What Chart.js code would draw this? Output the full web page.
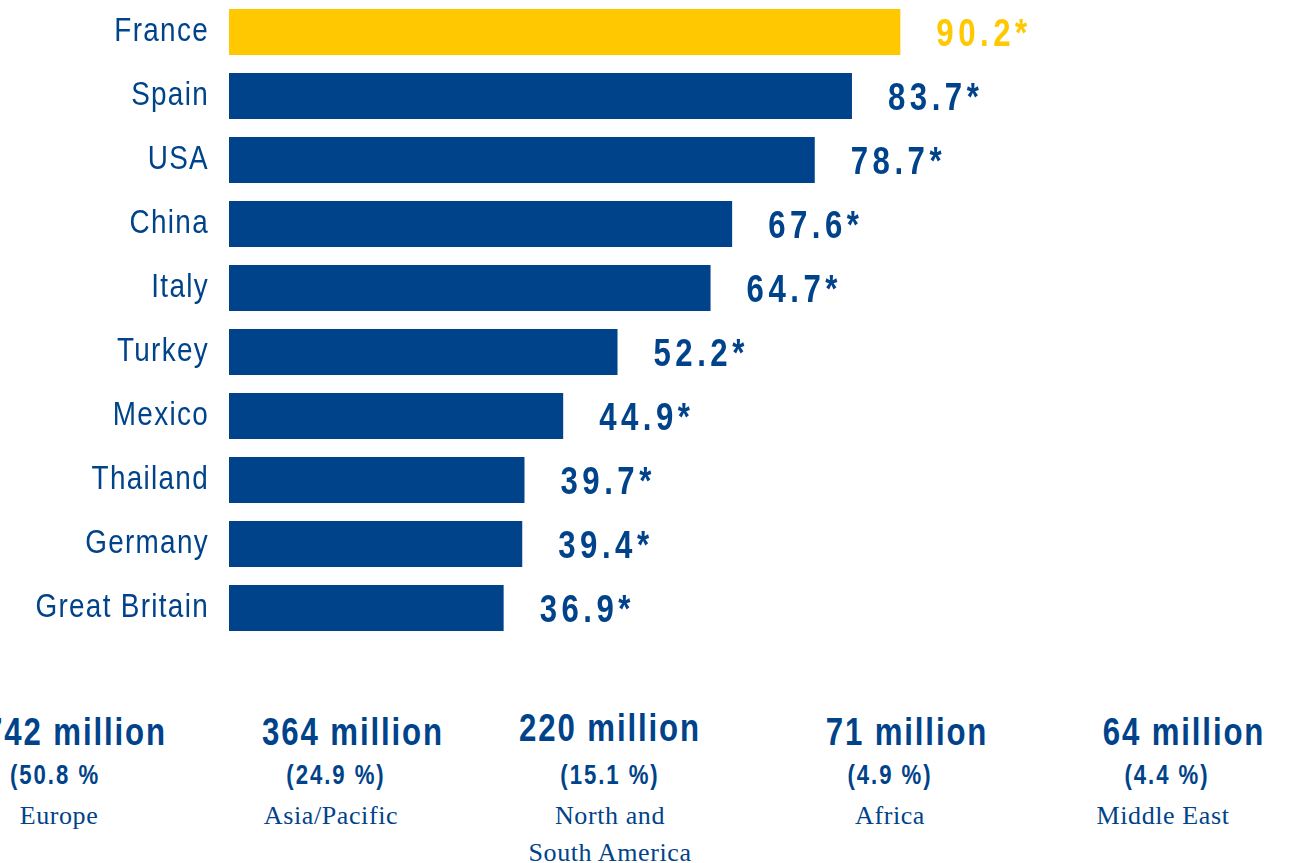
<!DOCTYPE html>
<html>
<head>
<meta charset="utf-8">
<script src="https://cdn.jsdelivr.net/npm/chart.js@4.4.0/dist/chart.umd.min.js"></script>
<style>
  html, body { margin: 0; padding: 0; background: #fff; overflow: hidden; }
  #wrap { position: relative; width: 1302px; height: 863px; }
  #chartBox { position: absolute; left: 0; top: 0; width: 1302px; height: 640px; }
  .region { position: absolute; color: #00438a; text-align: center; white-space: nowrap; transform-origin: center; }
  .big, .pct { font-family: "Liberation Sans", Arial, sans-serif; font-weight: bold; transform: translateX(-50%) scaleX(0.82); }
  .big { font-size: 38px; letter-spacing: 2.3px; line-height: 40px; }
  .pct { font-size: 27px; letter-spacing: 2.4px; line-height: 30px; }
  .name { font-family: "Liberation Serif", "DejaVu Serif", serif; font-size: 26px; letter-spacing: 0.6px; line-height: 37px; transform: translateX(-50%); }
</style>
</head>
<body>
<div id="wrap">
  <div id="chartBox"><canvas id="tourism"></canvas></div>
  <div id="regions"></div>
</div>
<script>
// arrivals per country (millions)
const countries = ["France", "Spain", "USA", "China", "Italy", "Turkey", "Mexico", "Thailand", "Germany", "Great Britain"];
const arrivals = [90.2, 83.7, 78.7, 67.6, 64.7, 52.2, 44.9, 39.7, 39.4, 36.9];

// arrivals per world region
const regionNames = ["Europe", "Asia/Pacific", "North and\nSouth America", "Africa", "Middle East"];
const regionTotals = ["742 million", "364 million", "220 million", "71 million", "64 million"];
const regionShares = ["(50.8 %", "(24.9 %)", "(15.1 %)", "(4.9 %)", "(4.4 %)"];

const BLUE = "#00438a";
const YELLOW = "#ffc800";
const NARROW = 0.82; // horizontal squeeze for the condensed look

// ---------- region blocks under the chart ----------
const regionCenters = [
  { total: 76, share: 55, name: 59 },
  { total: 353, share: 336, name: 331 },
  { total: 610, share: 610, name: 610 },
  { total: 907, share: 890, name: 890 },
  { total: 1184, share: 1167, name: 1163 }
];
const regionBox = document.getElementById("regions");
regionNames.forEach((name, i) => {
  const c = regionCenters[i];
  const top = i === 2 ? 708 : 712;
  regionBox.innerHTML += `
    <div class="region big" style="left:${c.total}px; top:${top}px">${regionTotals[i]}</div>
    <div class="region pct" style="left:${c.share}px; top:760px">${regionShares[i]}</div>
    <div class="region name" style="left:${c.name}px; top:797px">${name.replace("\n", "<br>")}</div>`;
});

function squeezedText(ctx, text, x, y) {
  ctx.save();
  ctx.translate(x, y);
  ctx.scale(NARROW, 1);
  ctx.fillText(text, 0, 0);
  ctx.restore();
}

// country names left of the bars and values right of them
const barLabels = {
  id: "barLabels",
  afterDatasetsDraw(chart) {
    const ctx = chart.ctx;
    const meta = chart.getDatasetMeta(0);
    const yScale = chart.scales.y;
    ctx.save();
    ctx.textBaseline = "alphabetic";

    ctx.font = '34px "Liberation Sans", Arial, sans-serif';
    ctx.letterSpacing = "1.6px";
    ctx.textAlign = "right";
    ctx.fillStyle = BLUE;
    countries.forEach((name, i) => {
      squeezedText(ctx, name, chart.chartArea.left - 20, yScale.getPixelForTick(i) + 9);
    });

    ctx.font = 'bold 38px "Liberation Sans", Arial, sans-serif';
    ctx.letterSpacing = "5.5px";
    ctx.textAlign = "left";
    meta.data.forEach((bar, i) => {
      ctx.fillStyle = i === 0 ? YELLOW : BLUE;
      squeezedText(ctx, arrivals[i].toFixed(1) + "*", bar.x + 36, bar.y + 14);
    });
    ctx.restore();
  }
};

new Chart(document.getElementById("tourism"), {
  type: "bar",
  data: {
    labels: countries,
    datasets: [{
      data: arrivals,
      backgroundColor: arrivals.map((v, i) => i === 0 ? YELLOW : BLUE),
      borderWidth: 0,
      categoryPercentage: 1,
      barPercentage: 0.72
    }]
  },
  options: {
    indexAxis: "y",
    responsive: true,
    maintainAspectRatio: false,
    animation: false,
    layout: { padding: { left: 0, right: 31, top: 0, bottom: 0 } },
    plugins: { legend: { display: false }, tooltip: { enabled: false } },
    scales: {
      x: {
        min: 0,
        max: 140,
        display: false
      },
      y: {
        border: { display: false },
        grid: { display: false },
        ticks: { display: false },
        afterFit(scale) {
          scale.width = 229;
          scale.paddingTop = 0;
          scale.paddingBottom = 0;
        }
      }
    }
  },
  plugins: [barLabels]
});
</script>
</body>
</html>
